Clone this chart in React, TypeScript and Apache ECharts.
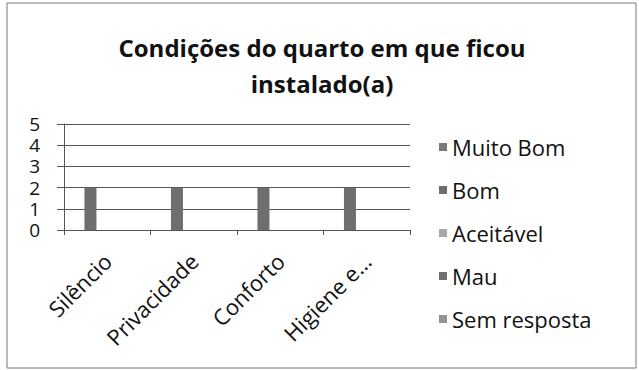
import React, { useEffect, useRef } from "react";
import * as echarts from "echarts";

const categories = ["Silêncio", "Privacidade", "Conforto", "Higiene e…"];
const seriesNames = ["Muito Bom", "Bom", "Aceitável", "Mau", "Sem resposta"];
const muitoBom = [0, 0, 0, 0];
const bom = [2, 2, 2, 2];
const aceitavel = [0, 0, 0, 0];
const mau = [0, 0, 0, 0];
const semResposta = [0, 0, 0, 0];
const seriesValues = [muitoBom, bom, aceitavel, mau, semResposta];
const seriesColors = ["#7a7a7a", "#6e6e6e", "#a8a8a8", "#707070", "#949494"];

export default function App() {
  const ref = useRef<HTMLDivElement>(null);
  useEffect(() => {
    if (!ref.current) return;
    const chart = echarts.init(ref.current, null, { renderer: "svg" });
    const font = "'Open Sans', sans-serif";
    chart.setOption({
      animation: false,
      backgroundColor: "#ffffff",
      textStyle: { fontFamily: font },
      title: {
        text: "Condições do quarto em que ficou\ninstalado(a)",
        left: 322,
        top: 29,
        padding: 0,
        textAlign: "center",
        textStyle: {
          fontFamily: font,
          fontSize: 24,
          fontWeight: "bold",
          lineHeight: 36,
          color: "#111",
        },
      },
      legend: {
        orient: "vertical",
        left: 439,
        top: 135,
        padding: 0,
        itemWidth: 8,
        itemHeight: 8,
        itemGap: 19,
        icon: "rect",
        textStyle: { fontFamily: font, fontSize: 22, lineHeight: 24, color: "#111" },
        data: seriesNames,
      },
      graphic: [
        {
          type: "rect",
          shape: { x: 7, y: 3, width: 629, height: 365 },
          style: { fill: "none", stroke: "#777", lineWidth: 1 },
          silent: true,
        },
      ],
      grid: { left: 64, right: 229, top: 124, bottom: 140, containLabel: false },
      xAxis: {
        type: "category",
        data: categories,
        axisLine: { show: true, lineStyle: { color: "#555", width: 1 } },
        axisTick: { show: true, length: 5, lineStyle: { color: "#555" } },
        axisLabel: { rotate: 45, fontSize: 22, margin: 27, color: "#111", fontFamily: font },
      },
      yAxis: {
        type: "value",
        min: 0,
        max: 5,
        interval: 1,
        axisLine: { show: true, lineStyle: { color: "#555", width: 1 } },
        axisTick: { show: true, length: 7, lineStyle: { color: "#555" } },
        axisLabel: { fontSize: 19, lineHeight: 18, margin: 24, color: "#111", fontFamily: font },
        splitLine: { show: true, lineStyle: { color: "#555", width: 1 } },
      },
      series: seriesNames.map((name, i) => ({
        name,
        type: "bar",
        data: seriesValues[i],
        barWidth: 12,
        barGap: "40%",
        itemStyle: { color: seriesColors[i] },
      })),
    });
    return () => chart.dispose();
  }, []);
  return (
    <div
      ref={ref}
      style={{ position: "fixed", left: 0, top: 0, width: 639, height: 370, background: "#fff" }}
    />
  );
}
